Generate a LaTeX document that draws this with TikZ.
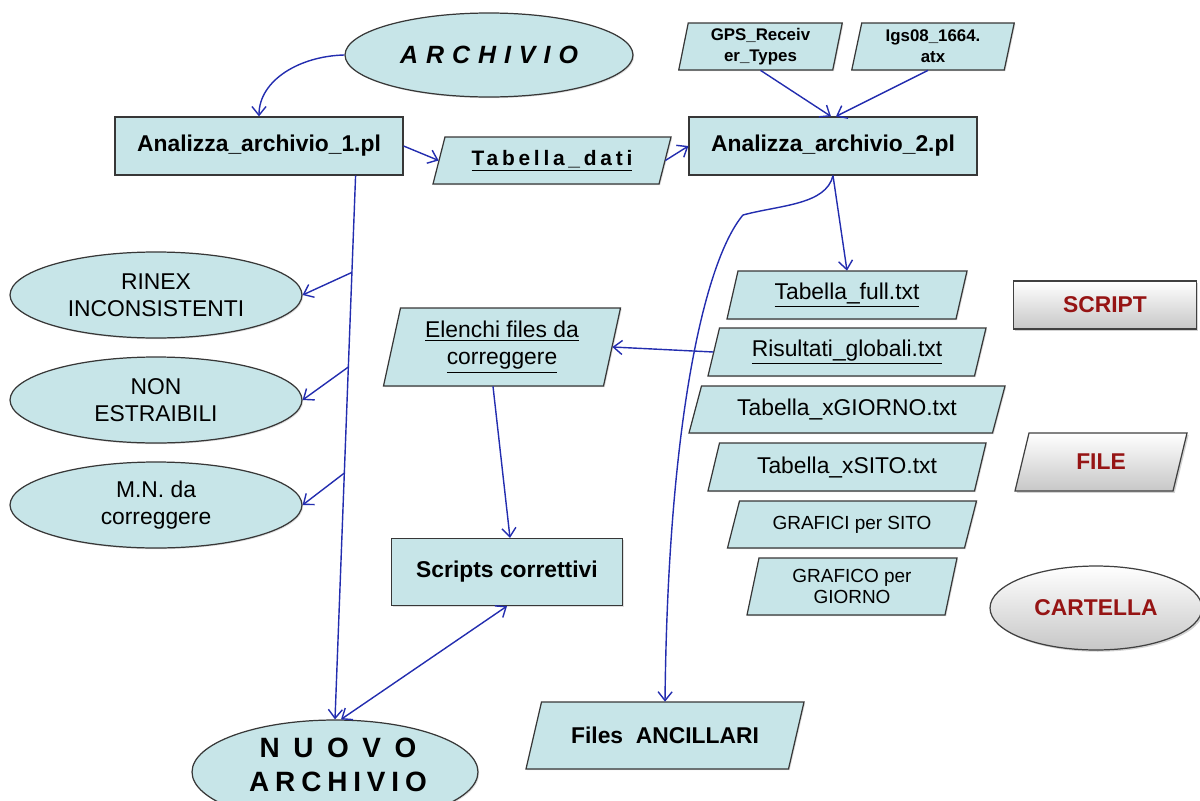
\documentclass[tikz,border=0pt]{standalone}
\usepackage{fontspec}
\setmainfont{Liberation Sans}
\usetikzlibrary{arrows.meta,shapes.geometric,shadows,calc}
\definecolor{cy}{RGB}{199,229,232}
\definecolor{bd}{RGB}{55,55,55}
\definecolor{ln}{RGB}{35,45,175}
\definecolor{dred}{RGB}{150,20,20}
% parallelogram: name, cx, cy, w, h, slant, text style, shape style ; text follows
\newcommand\mypg[8]{%
  \path[#8] (#2-#4/2-#6/2, #3+#5/2) -- (#2+#4/2-#6/2, #3+#5/2) -- (#2+#4/2+#6/2, #3-#5/2) -- (#2-#4/2+#6/2, #3-#5/2) -- cycle;
  \node[ptxt, #7, minimum width={#4*0.02cm}, minimum height={#5*0.02cm}] (#1) at (#2,#3)}
\begin{document}
\begin{tikzpicture}[x=0.02cm,y=-0.02cm,
  shp/.style={draw=bd, line width=0.7pt, fill=cy, drop shadow={opacity=0.25,shadow xshift=0.7pt,shadow yshift=-0.7pt}},
  gshp/.style={draw=black!75, line width=0.7pt, top color=white, bottom color=black!22, drop shadow={opacity=0.35,shadow xshift=1pt,shadow yshift=-1pt}},
  rbox/.style={shp, rectangle, inner sep=0pt, align=center},
  ell/.style={shp, ellipse, inner sep=0pt, align=center},
  ptxt/.style={rectangle, inner sep=0pt, align=center},
  fr/.style={font=\fontsize{13}{15.5}\selectfont},
  fb/.style={font=\fontsize{13}{15.5}\selectfont\bfseries},
  fsm/.style={font=\fontsize{10.8}{12.4}\selectfont},
  fgps/.style={font=\fontsize{9.6}{12}\selectfont\bfseries},
  leg/.style={font=\fontsize{13}{15.5}\selectfont\bfseries, text=dred},
  arr/.style={draw=ln, line width=0.8pt, -{Straight Barb[length=5pt,width=8pt]}},
  darr/.style={draw=ln, line width=0.8pt, {Straight Barb[length=5pt,width=8pt]}-{Straight Barb[length=5pt,width=8pt]}}
]
\useasboundingbox (0,0) rectangle (1200,801);

% ---- top row
\node[ell, minimum width=5.76cm, minimum height=1.68cm,
      font=\fontsize{14.2}{17}\selectfont\bfseries\itshape\addfontfeature{LetterSpace=32}] (ARC) at (489,55) {ARCHIVIO};
\node[rbox, fb, minimum width=5.76cm, minimum height=1.16cm] (A1) at (259,146) {Analizza\_archivio\_1.pl};
\node[rbox, fb, minimum width=5.76cm, minimum height=1.16cm] (A2) at (833,146) {Analizza\_archivio\_2.pl};
\mypg{TD}{552}{160.5}{226}{47}{12}{font=\fontsize{11.9}{14}\selectfont\bfseries\addfontfeature{LetterSpace=18}}{shp}{\underline{Tabella\_dati}};
\mypg{GPS}{760.5}{46.5}{154}{47}{9.5}{fgps}{shp}{GPS\_Receiv\\er\_Types};
\mypg{IGS}{933}{46.5}{152.5}{47}{10}{fgps}{shp}{Igs08\_1664.\\atx};

% ---- left ellipses
\node[ell, fr, minimum width=5.84cm, minimum height=1.72cm] (RI) at (156,295) {RINEX\\INCONSISTENTI};
\node[ell, fr, minimum width=5.84cm, minimum height=1.72cm] (NO) at (156,400) {NON\\ESTRAIBILI};
\node[ell, fr, minimum width=5.84cm, minimum height=1.72cm] (MN) at (156,505) {M.N. da\\correggere};

% ---- middle
\mypg{EL}{502}{347}{220}{78}{17}{fr}{shp}{\underline{Elenchi files da}\\\underline{correggere}};
\node[rbox, fb, minimum width=4.62cm, minimum height=1.34cm] (SC) at (507,572) {Scripts correttivi};
\node[ell, minimum width=5.72cm, minimum height=2.08cm] (NU) at (335,772) {};
\node[ptxt, font=\fontsize{15.9}{19.3}\selectfont\bfseries\addfontfeature{LetterSpace=21}] (NUT) at (338,765) {N U O V O\\ARCHIVIO};

% ---- right column
\mypg{TF}{847}{295}{229}{48}{11}{fr}{shp}{\underline{Tabella\_full.txt}};
\mypg{RG}{847}{352}{266.5}{48}{11.5}{fr}{shp}{\underline{Risultati\_globali.txt}};
\mypg{TG}{847}{409.5}{303.5}{47}{12.5}{fr}{shp}{Tabella\_xGIORNO.txt};
\mypg{TS}{847}{467}{266.5}{48}{11.5}{fr}{shp}{Tabella\_xSITO.txt};
\mypg{GS}{852}{524.5}{237}{47}{12}{fsm}{shp}{GRAFICI per SITO};
\mypg{GG}{852}{586.5}{198}{57}{12}{fsm}{shp}{GRAFICO per\\GIORNO};
\mypg{FA}{665}{735.5}{262.5}{67}{15.5}{fb}{shp}{Files\ \ ANCILLARI};

% ---- legend
\node[gshp, rectangle, leg, minimum width=3.66cm, minimum height=0.96cm] (LS) at (1105,305) {SCRIPT};
\mypg{LF}{1101}{462}{158}{58}{14}{leg}{gshp}{FILE};
\node[gshp, ellipse, leg, inner sep=0pt, minimum width=4.24cm, minimum height=1.68cm] (LC) at (1096,608) {CARTELLA};

% ---- connectors
\draw[arr] (ARC.west) .. controls (300,56) and (259,80) .. (A1.north);
\draw[arr] (A1.east) -- (TD.west);
\draw[arr] (TD.east) -- (A2.west);
\draw[arr] (GPS.south) -- ($(A2.north)+(-2,0)$);
\draw[arr] ($(IGS.south)+(-5,0)$) -- ($(A2.north)+(3,0)$);
\draw[arr] (A2.south) -- ($(TF.north)+(0,0)$);
\draw[arr] (A2.south) .. controls (826,205) and (780,205) .. (743,215)
           .. controls (705,260) and (668,420) .. (FA.north);
\draw[arr] (RG.west) -- (EL.east);
\draw[arr] ($(EL.south)+(-9,0)$) -- ($(SC.north)+(3,0)$);
\draw[arr] ($(A1.south east)+(-48,0)$) -- coordinate[pos=0.178] (b1) coordinate[pos=0.352] (b2) coordinate[pos=0.547] (b3) (NU.north);
\draw[arr] (b1) -- (RI.east);
\draw[arr] (b2) -- (NO.east);
\draw[arr] (b3) -- (MN.east);
\draw[darr] (SC.south) -- ($(NU.north)+(6,0)$);
\end{tikzpicture}
\end{document}
